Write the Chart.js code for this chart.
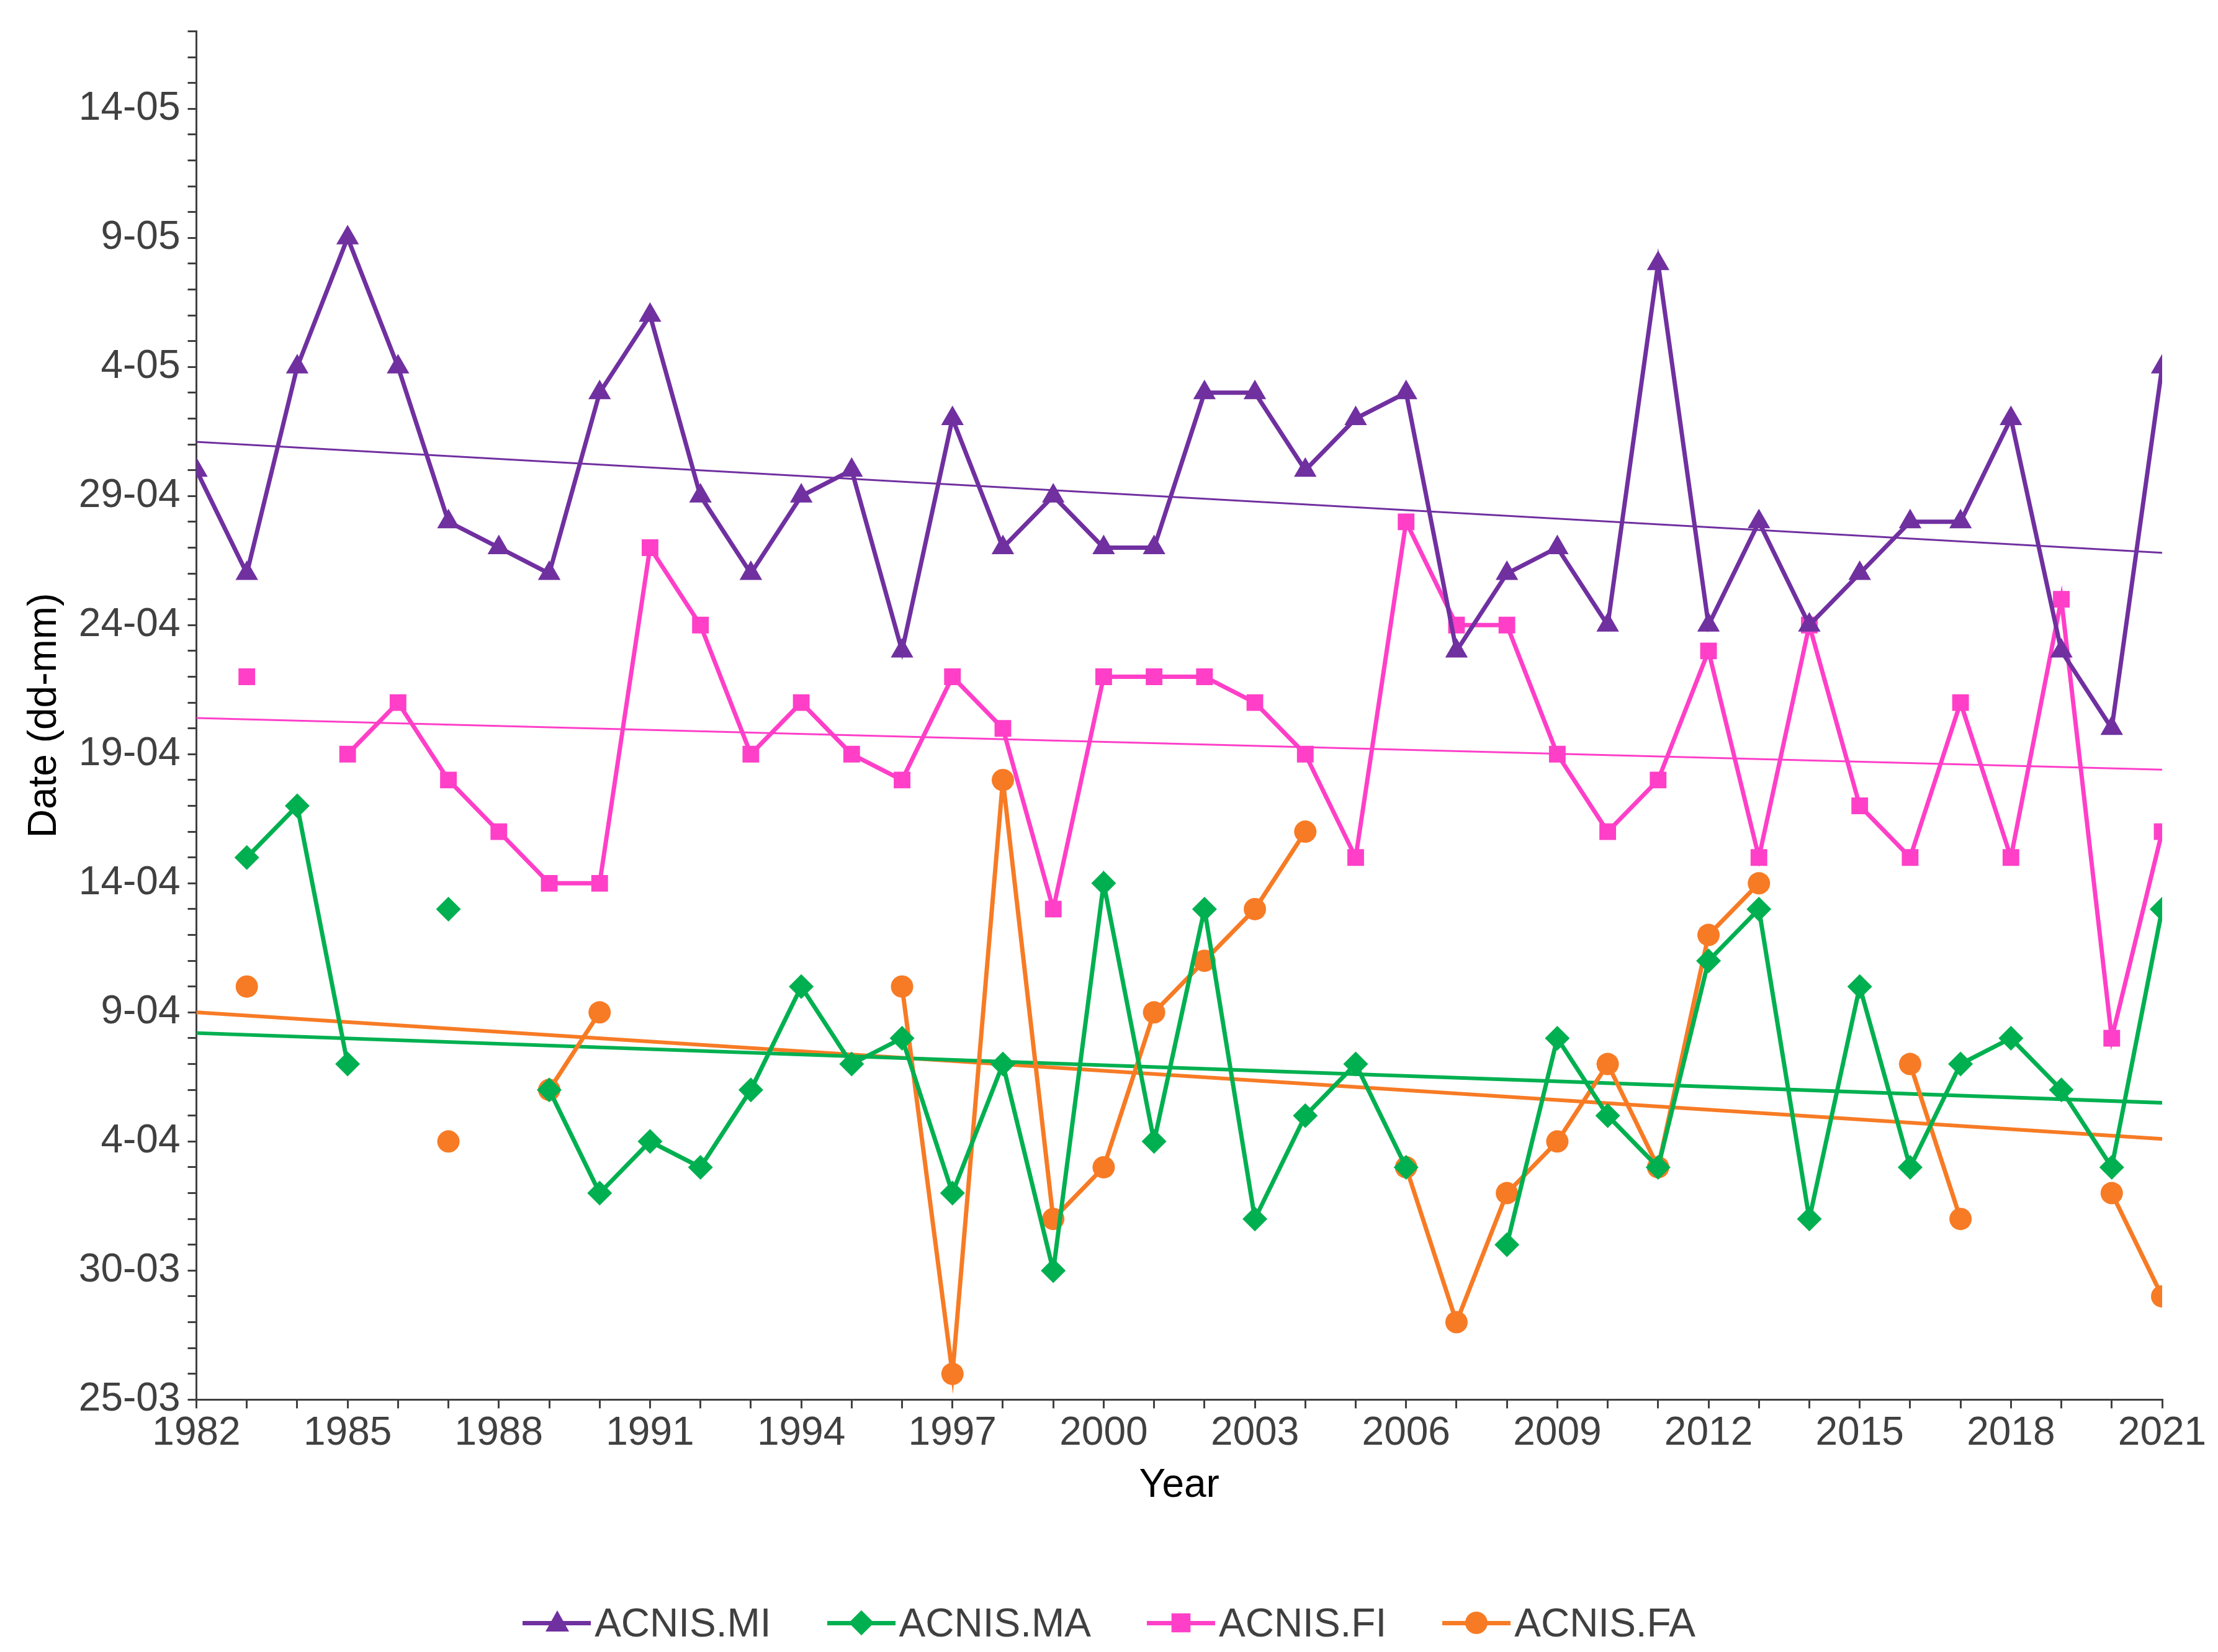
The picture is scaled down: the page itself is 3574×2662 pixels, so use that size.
<!DOCTYPE html>
<html>
<head>
<meta charset="utf-8">
<script src="https://cdn.jsdelivr.net/npm/chart.js@4/dist/chart.umd.min.js"></script>
<style>
  body { margin: 0; background: #fff; }
  #wrap { position: relative; width: 3574px; height: 2662px; }
  #legend { position: absolute; left: 0; right: 0; top: 2578px; display: flex; justify-content: center; gap: 90px;
            font-family: Arial, 'Liberation Sans', sans-serif; font-size: 64px; color: #404040; }
  .item { display: flex; align-items: center; gap: 6px; }
  .sym { position: relative; width: 110px; height: 40px; }
  .sym .ln { position: absolute; left: 0; right: 0; top: 17px; height: 7px; }
  .sym .mk { position: absolute; left: 37px; top: 2px; width: 36px; height: 36px; }
</style>
</head>
<body>
<div id="wrap">
  <canvas id="chart" width="3574" height="2662"></canvas>
  <div id="legend"></div>
</div>
<script>
// Day offsets counted from 25 March (0 = 25-03)
const years = [];
for (let y = 1982; y <= 2021; y++) years.push(y);

const miValues = [36,32,40,45,40,34,33,32,39,42,35,32,35,36,29,38,33,35,33,33,39,39,36,38,39,29,32,33,30,44,30,34,30,32,34,34,38,29,26,40];
const maValues = [null,21,23,13,null,19,null,12,8,10,9,12,16,13,14,8,13,5,20,10,19,7,11,13,9,null,6,14,11,9,17,19,7,16,9,13,14,12,9,19];
const fiValues = [null,28,null,25,27,24,22,20,20,33,30,25,27,25,24,28,26,19,28,28,28,27,25,21,34,30,30,25,22,24,29,21,30,23,21,27,21,31,14,22];
const faValues = [null,16,null,null,null,10,null,12,15,null,null,null,null,null,16,1,24,7,9,15,17,19,22,null,9,3,8,10,13,9,18,20,null,null,13,7,null,null,8,4];

// linear trend end points (1982, 2021)
const miTrend = [37.1, 32.8];
const maTrend = [14.2, 11.5];
const fiTrend = [26.4, 24.4];
const faTrend = [15.0, 10.1];

const seriesNames = ['ACNIS.MI', 'ACNIS.MA', 'ACNIS.FI', 'ACNIS.FA'];
const colors = ['#7030A0', '#00B050', '#FF3FC8', '#F77B25'];
const markers = ['triangle', 'rectRot', 'rect', 'circle'];

function pts(vals) { return vals.map((v, i) => ({ x: years[i], y: v })); }
function trend(t) { return [{ x: 1982, y: t[0] }, { x: 2021, y: t[1] }]; }

function dateLabel(off) {
  const d = new Date(2001, 2, 25 + off);
  return d.getDate() + '-' + String(d.getMonth() + 1).padStart(2, '0');
}

const font = "Arial, 'Liberation Sans', sans-serif";
const datasets = [];
[miValues, maValues, fiValues, faValues].forEach((vals, k) => {
  datasets.push({
    label: seriesNames[k], data: pts(vals), borderColor: colors[k], backgroundColor: colors[k],
    borderWidth: 7, pointStyle: markers[k], pointRadius: [21, 20, 19, 18][k],
    pointBorderWidth: 0, spanGaps: false, tension: 0
  });
});
[[miTrend, 3], [maTrend, 6], [fiTrend, 3], [faTrend, 6]].forEach(([t, w], k) => {
  datasets.push({ label: 'trend' + k, data: trend(t), borderColor: colors[k], borderWidth: w, pointRadius: 0 });
});

new Chart(document.getElementById('chart'), {
  type: 'line',
  data: { datasets },
  options: {
    responsive: false,
    animation: false,
    layout: { padding: { left: 30, right: 90, top: 28, bottom: 225 } },
    plugins: { legend: { display: false }, tooltip: { enabled: false } },
    scales: {
      x: {
        type: 'linear', min: 1982, max: 2021,
        grid: { display: true, drawOnChartArea: false, color: '#404040', tickLength: 14, lineWidth: 3 },
        border: { color: '#404040', width: 3 },
        ticks: { stepSize: 1, autoSkip: false, maxRotation: 0, color: '#404040', font: { size: 64, family: font },
                 callback: v => ((v - 1982) % 3 === 0 || v === 2021) ? String(v) : '' },
        title: { display: true, text: 'Year', color: '#000', font: { size: 64, family: font } }
      },
      y: {
        min: 0, max: 53,
        grid: { display: true, drawOnChartArea: false, color: '#404040', tickLength: 14, lineWidth: 3 },
        border: { color: '#404040', width: 3 },
        ticks: { stepSize: 1, autoSkip: false, color: '#404040', padding: 12, font: { size: 64, family: font },
                 callback: v => v % 5 === 0 ? dateLabel(v) : '' },
        title: { display: true, text: 'Date (dd-mm)', color: '#000', font: { size: 64, family: font } }
      }
    }
  }
});

// HTML legend
const legend = document.getElementById('legend');
seriesNames.forEach((name, k) => {
  const c = colors[k];
  let mk = '';
  if (k === 0) mk = `<div class="mk" style="width:0;height:0;left:37px;top:0;border-left:19px solid transparent;border-right:19px solid transparent;border-bottom:34px solid ${c}"></div>`;
  if (k === 1) mk = `<div class="mk" style="background:${c};transform:rotate(45deg) scale(0.8)"></div>`;
  if (k === 2) mk = `<div class="mk" style="background:${c};transform:scale(0.85)"></div>`;
  if (k === 3) mk = `<div class="mk" style="background:${c};border-radius:50%"></div>`;
  legend.insertAdjacentHTML('beforeend',
    `<div class="item"><div class="sym"><div class="ln" style="background:${c}"></div>${mk}</div><span>${name}</span></div>`);
});
</script>
</body>
</html>
